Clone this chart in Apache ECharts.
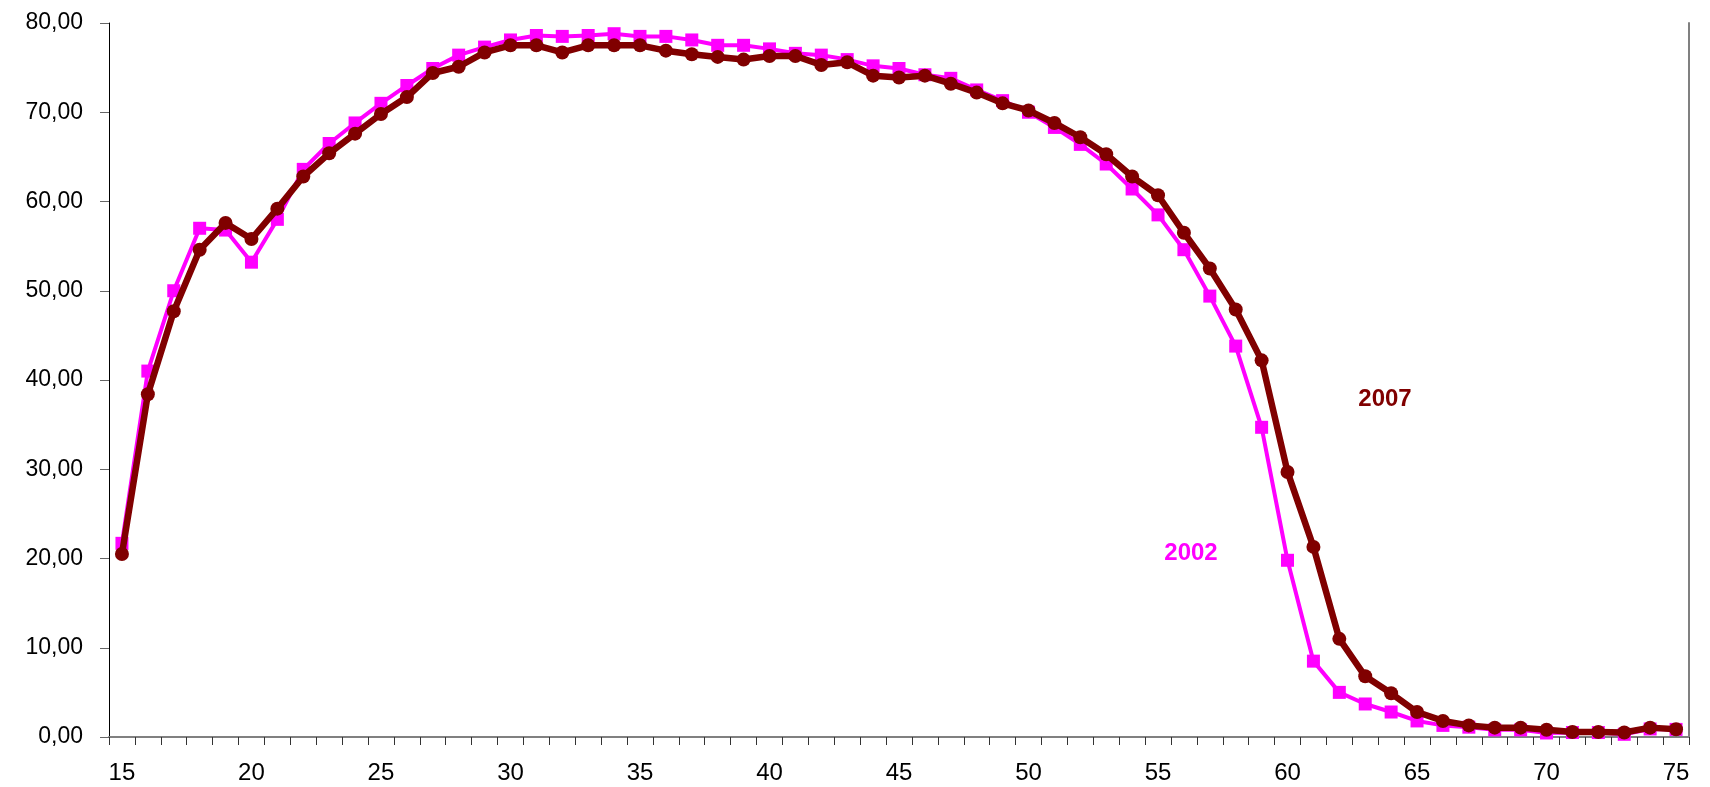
<!DOCTYPE html>
<html>
<head>
<meta charset="utf-8">
<script src="https://cdn.jsdelivr.net/npm/echarts@6/dist/echarts.min.js"></script>
<style>
html,body{margin:0;padding:0;background:#fff;}
#chart{width:1710px;height:787px;}
</style>
</head>
<body>
<div id="chart"></div>
<script>
const ages = [];
for (let a = 15; a <= 75; a++) ages.push(String(a));

const values2002 = [
  21.7, 41.0, 50.0, 57.0, 56.8, 53.2, 58.0, 63.6, 66.5, 68.8,
  71.0, 73.0, 74.9, 76.4, 77.3, 78.1, 78.6, 78.5, 78.6, 78.8,
  78.5, 78.5, 78.1, 77.5, 77.5, 77.1, 76.6, 76.4, 75.9, 75.2,
  74.9, 74.2, 73.8, 72.5, 71.3, 70.0, 68.3, 66.4, 64.2, 61.4,
  58.5, 54.6, 49.4, 43.8, 34.7, 19.8, 8.5, 5.0, 3.7, 2.8,
  1.8, 1.3, 1.1, 0.8, 0.8, 0.45, 0.5, 0.5, 0.3, 0.9, 0.85
];

const values2007 = [
  20.5, 38.4, 47.7, 54.6, 57.6, 55.8, 59.2, 62.8, 65.4, 67.6,
  69.8, 71.7, 74.4, 75.1, 76.7, 77.5, 77.5, 76.7, 77.5, 77.5,
  77.5, 76.9, 76.5, 76.2, 75.9, 76.3, 76.3, 75.3, 75.6, 74.1,
  73.9, 74.1, 73.2, 72.2, 71.0, 70.2, 68.8, 67.2, 65.3, 62.8,
  60.7, 56.5, 52.5, 47.9, 42.2, 29.7, 21.3, 11.0, 6.8, 4.9,
  2.8, 1.8, 1.3, 1.05, 1.05, 0.82, 0.56, 0.56, 0.5, 1.05, 0.86
];

const seriesNames = ['2002', '2007'];
const yTicks = [0, 10, 20, 30, 40, 50, 60, 70, 80];

const chart = echarts.init(document.getElementById('chart'));
const font = '"Liberation Sans", Arial, sans-serif';

chart.setOption({
  animation: false,
  backgroundColor: '#ffffff',
  grid: { left: 109, top: 23, right: 21, bottom: 50, containLabel: false },
  xAxis: [{
    type: 'category',
    data: ages,
    boundaryGap: true,
    axisLine: { lineStyle: { color: '#222', width: 1 } },
    axisTick: { show: true, interval: 0, length: 8, alignWithLabel: false, lineStyle: { color: '#333', width: 1 } },
    axisLabel: { interval: 4, fontSize: 24, color: '#000', fontFamily: font, margin: 24 },
    splitLine: { show: false }
  }, {
    type: 'category',
    data: ages,
    position: 'top',
    axisLine: { lineStyle: { color: '#808080', width: 2 } },
    axisTick: { show: false },
    axisLabel: { show: false }
  }],
  yAxis: [{
    type: 'value',
    min: yTicks[0],
    max: yTicks[yTicks.length - 1],
    interval: 10,
    axisLine: { show: true, lineStyle: { color: '#000', width: 1 } },
    axisTick: { show: true, length: 9, lineStyle: { color: '#666', width: 1 } },
    axisLabel: {
      fontSize: 23, color: '#000', fontFamily: font, margin: 26,
      formatter: v => v.toFixed(2).replace('.', ',')
    },
    splitLine: { show: false }
  }, {
    type: 'value',
    position: 'right',
    min: 0, max: 80, interval: 10,
    axisLine: { show: true, lineStyle: { color: '#808080', width: 2 } },
    axisTick: { show: false },
    axisLabel: { show: false },
    splitLine: { show: false }
  }],
  series: [{
    name: seriesNames[0],
    type: 'line',
    data: values2002,
    symbol: 'rect',
    symbolSize: 13,
    lineStyle: { color: '#FF00FF', width: 4 },
    itemStyle: { color: '#FF00FF' },
    z: 2
  }, {
    name: seriesNames[1],
    type: 'line',
    data: values2007,
    symbol: 'circle',
    symbolSize: 14,
    lineStyle: { color: '#800000', width: 6.5 },
    itemStyle: { color: '#800000' },
    z: 3
  }],
  graphic: [{
    type: 'text',
    x: 1385, y: 399,
    style: { text: seriesNames[1], fill: '#800000', font: 'bold 24px ' + font, textAlign: 'center', textVerticalAlign: 'middle' }
  }, {
    type: 'text',
    x: 1191, y: 553,
    style: { text: seriesNames[0], fill: '#FF00FF', font: 'bold 24px ' + font, textAlign: 'center', textVerticalAlign: 'middle' }
  }]
});
</script>
</body>
</html>
